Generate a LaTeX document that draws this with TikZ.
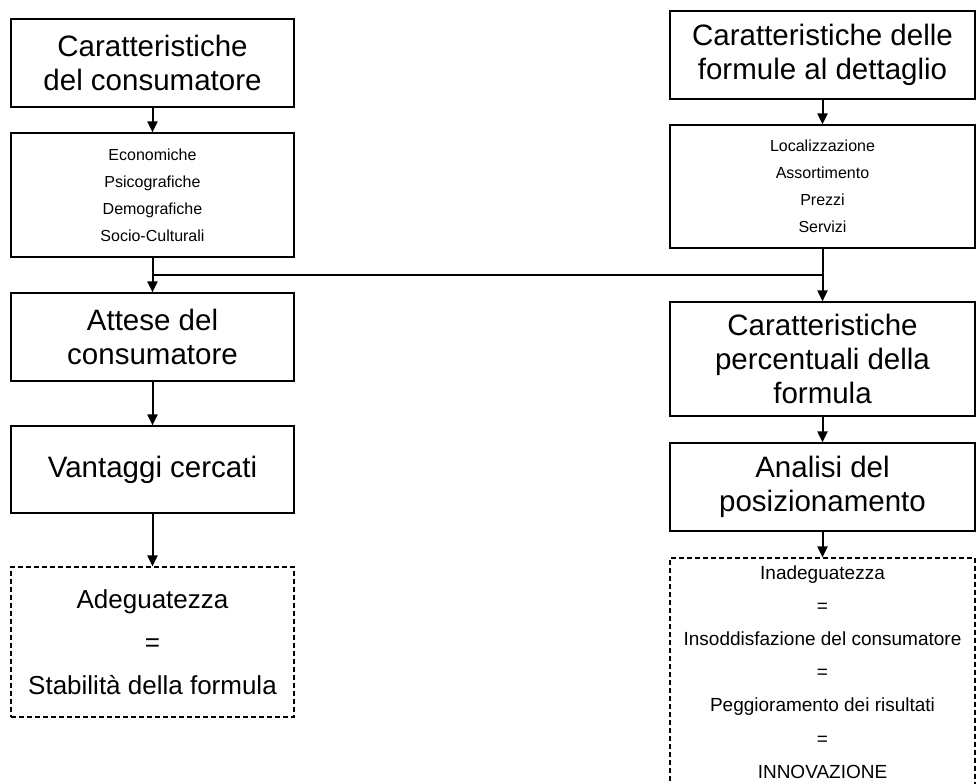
\documentclass[tikz,border=0pt]{standalone}
\usepackage{fontspec}
\setmainfont{Liberation Sans}
\usetikzlibrary{arrows.meta}
\begin{document}
\begin{tikzpicture}[x=1pt,y=-1pt,
  box/.style={draw=black, line width=1.2pt, rectangle, align=center, inner sep=0pt},
  dbox/.style={box, dash pattern=on 5pt off 3pt},
  leftcol/.style={minimum width=283pt},
  rightcol/.style={minimum width=305pt},
  big/.style={font=\fontsize{29.5}{34}\selectfont},
  small/.style={font=\fontsize{16}{27}\selectfont},
  flow/.style={line width=2pt, -{Triangle[length=11pt,width=10pt]}},
  link/.style={line width=1.1pt}]
\useasboundingbox (0,0) rectangle (977,784);
\fill[white] (0,0) rectangle (977,784);

% consumer side
\node[box,big,leftcol,minimum height=88pt] (c1) at (152.5,63) {Caratteristiche\\del consumatore};
\node[box,small,leftcol,minimum height=124pt] (c2) at (152.5,195) {Economiche\\Psicografiche\\Demografiche\\Socio-Culturali};
\node[box,big,leftcol,minimum height=88pt] (c3) at (152.5,337) {Attese del\\consumatore};
\node[box,big,leftcol,minimum height=87pt] (c4) at (152.5,469.5) {Vantaggi cercati};
\node[dbox,leftcol,minimum height=150pt,font=\fontsize{26}{43}\selectfont] (c5) at (152.5,642) {Adeguatezza\\=\\Stabilità della formula};

% retail formula side
\node[box,big,rightcol,minimum height=88pt] (f1) at (822.5,55) {Caratteristiche delle\\formule al dettaglio};
\node[box,small,rightcol,minimum height=123pt] (f2) at (822.5,186.5) {Localizzazione\\Assortimento\\Prezzi\\Servizi};
\node[box,big,rightcol,minimum height=114pt] (f3) at (822.5,359) {Caratteristiche\\percentuali della\\formula};
\node[box,big,rightcol,minimum height=88pt] (f4) at (822.5,487) {Analisi del\\posizionamento};
\node[dbox,rightcol,minimum height=228pt,font=\fontsize{19}{33.2}\selectfont] (f5) at (822.5,672) {Inadeguatezza\\=\\Insoddisfazione del consumatore\\=\\Peggioramento dei risultati\\=\\INNOVAZIONE};

% cross link joining the two flows
\coordinate (jl) at (152.5,275);
\coordinate (jr) at (822.5,275);
\draw[link] (jl) -- (jr);

% arrows
\draw[flow] (c1) -- (c2);
\draw[flow] (c2) -- (c3);
\draw[flow] (c3) -- (c4);
\draw[flow] (c4) -- (c5);
\draw[flow] (f1) -- (f2);
\draw[flow] (f2) -- (f3);
\draw[flow] (f3) -- (f4);
\draw[flow] (f4) -- (f5);
\end{tikzpicture}
\end{document}
